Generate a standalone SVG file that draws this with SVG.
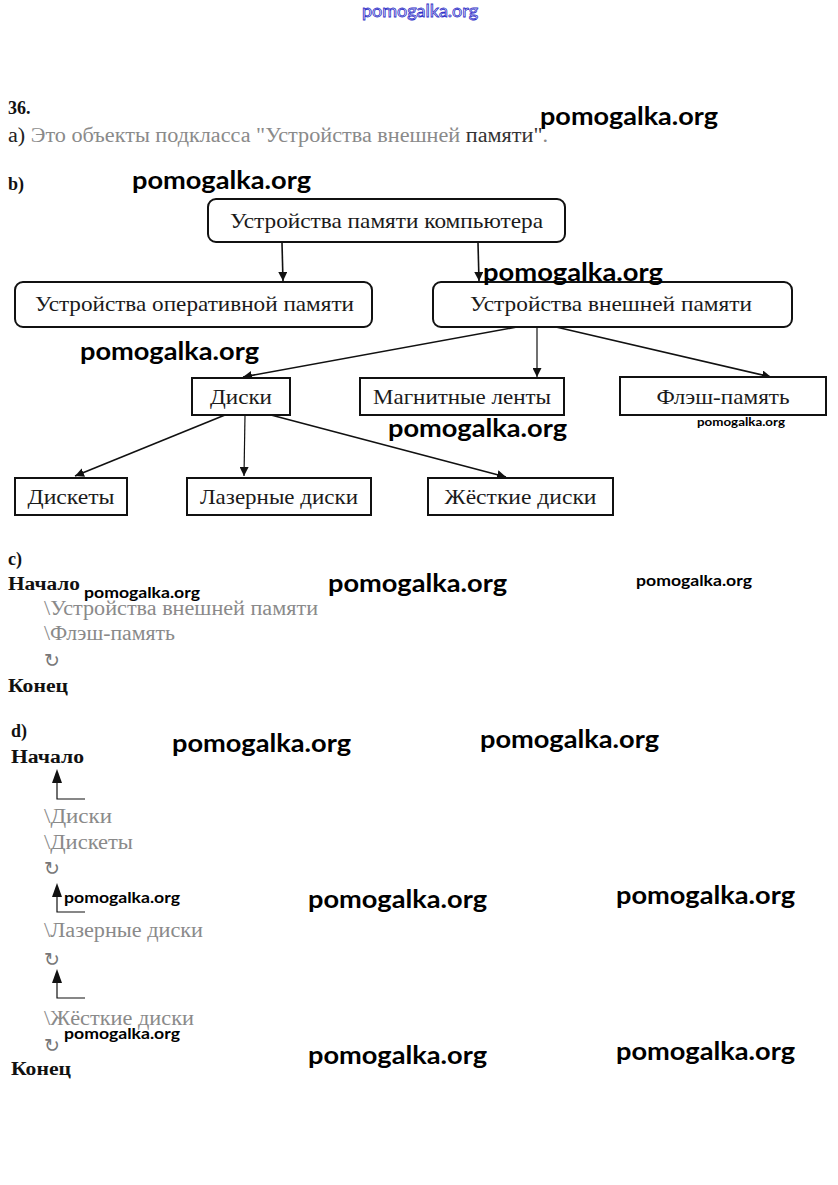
<svg xmlns="http://www.w3.org/2000/svg" width="838" height="1185" viewBox="0 0 838 1185">
<style>
.bg{fill:#fff}
.box{fill:#fff;stroke:#111;stroke-width:2}
.bt{font-family:"Liberation Serif","Times New Roman",serif;font-size:22px;fill:#1a1a1a;text-anchor:middle}
.gt{font-family:"Liberation Serif","Times New Roman",serif;font-size:20px;fill:#8a8a8a}
.hd{font-family:"Liberation Serif","Times New Roman",serif;font-size:18px;font-weight:bold;fill:#111}
.wm{font-family:Lato,"Open Sans",sans-serif;font-weight:bold;fill:#000}
.sym{font-family:"DejaVu Sans",sans-serif;font-size:19px;fill:#777}
.conn{stroke:#111;stroke-width:1.6;fill:none}
.thin{stroke:#111;stroke-width:1.2;fill:none}
</style>
<defs>
<marker id="ah" viewBox="0 0 10 10" refX="10" refY="5" markerWidth="9" markerHeight="9" markerUnits="userSpaceOnUse" orient="auto">
<path d="M0,0 L10,5 L0,10 z" fill="#111"/>
</marker>
</defs>
<rect class="bg" x="0" y="0" width="838" height="1185"/>

<text x="420" y="17" text-anchor="middle" font-family="Lato,sans-serif" font-size="17" fill="#fff" stroke="#3030c8" stroke-width="0.8" textLength="116" lengthAdjust="spacingAndGlyphs">pomogalka.org</text>

<g id="section-a">
<text class="hd" x="8" y="114">36.</text>
<text class="gt" x="8" y="142" textLength="540" lengthAdjust="spacingAndGlyphs"><tspan fill="#222">а)</tspan> Это объекты подкласса "Устройства внешней <tspan fill="#333">памяти"</tspan>.</text>
</g>

<text class="hd" x="8" y="190">b)</text>

<g id="connectors">
<line class="conn" x1="282" y1="243" x2="283" y2="281" marker-end="url(#ah)"/>
<line class="conn" x1="478" y1="243" x2="479" y2="281" marker-end="url(#ah)"/>
<line class="conn" x1="517" y1="327" x2="243" y2="377" marker-end="url(#ah)"/>
<line class="thin" x1="537" y1="327" x2="537" y2="377" marker-end="url(#ah)"/>
<line class="conn" x1="556" y1="327" x2="771" y2="377" marker-end="url(#ah)"/>
<line class="conn" x1="225" y1="415" x2="75" y2="476" marker-end="url(#ah)"/>
<line class="thin" x1="245" y1="415" x2="244" y2="476" marker-end="url(#ah)"/>
<line class="conn" x1="271" y1="415" x2="506" y2="477" marker-end="url(#ah)"/>
</g>

<g id="node-root">
<rect class="box" x="208" y="199" width="357" height="43" rx="8"/>
<text class="bt" x="386.5" y="228" textLength="313" lengthAdjust="spacingAndGlyphs">Устройства памяти компьютера</text>
</g>
<g id="node-ram">
<rect class="box" x="15" y="282" width="357" height="45" rx="8"/>
<text class="bt" x="194.5" y="311" textLength="319" lengthAdjust="spacingAndGlyphs">Устройства оперативной памяти</text>
</g>
<g id="node-ext">
<rect class="box" x="433" y="282" width="359" height="45" rx="8"/>
<text class="bt" x="611" y="311" textLength="282" lengthAdjust="spacingAndGlyphs">Устройства внешней памяти</text>
</g>
<g id="node-disks">
<rect class="box" x="192" y="378" width="98" height="37"/>
<text class="bt" x="241" y="404" textLength="62" lengthAdjust="spacingAndGlyphs">Диски</text>
</g>
<g id="node-tapes">
<rect class="box" x="360" y="378" width="204" height="37"/>
<text class="bt" x="462" y="404" textLength="178" lengthAdjust="spacingAndGlyphs">Магнитные ленты</text>
</g>
<g id="node-flash">
<rect class="box" x="620" y="377" width="206" height="38"/>
<text class="bt" x="723" y="404" textLength="133" lengthAdjust="spacingAndGlyphs">Флэш-память</text>
</g>
<g id="node-floppy">
<rect class="box" x="15" y="478" width="112" height="37"/>
<text class="bt" x="71" y="504" textLength="87" lengthAdjust="spacingAndGlyphs">Дискеты</text>
</g>
<g id="node-laser">
<rect class="box" x="187" y="478" width="184" height="37"/>
<text class="bt" x="279" y="504" textLength="158" lengthAdjust="spacingAndGlyphs">Лазерные диски</text>
</g>
<g id="node-hdd">
<rect class="box" x="428" y="478" width="185" height="37"/>
<text class="bt" x="520.5" y="504" textLength="152" lengthAdjust="spacingAndGlyphs">Жёсткие диски</text>
</g>

<g id="section-c">
<text class="hd" x="8" y="565">c)</text>
<text class="hd" x="8" y="590" textLength="72" lengthAdjust="spacingAndGlyphs">Начало</text>
<text class="gt" x="44" y="615" textLength="274" lengthAdjust="spacingAndGlyphs">\Устройства внешней памяти</text>
<text class="gt" x="44" y="640" textLength="131" lengthAdjust="spacingAndGlyphs">\Флэш-память</text>
<text class="sym" x="44" y="667">↻</text>
<text class="hd" x="8" y="692" textLength="60" lengthAdjust="spacingAndGlyphs">Конец</text>
</g>

<g id="section-d">
<text class="hd" x="11" y="737">d)</text>
<text class="hd" x="11" y="763" textLength="73" lengthAdjust="spacingAndGlyphs">Начало</text>
<path class="thin" d="M85,799 H57 V776"/>
<path d="M52,783 L57,769 L62,783 z" fill="#111"/>
<text class="gt" x="44" y="823" textLength="68" lengthAdjust="spacingAndGlyphs">\Диски</text>
<text class="gt" x="44" y="849" textLength="89" lengthAdjust="spacingAndGlyphs">\Дискеты</text>
<text class="sym" x="44" y="875">↻</text>
<path class="thin" d="M85,912 H57 V890"/>
<path d="M52,897 L57,883 L62,897 z" fill="#111"/>
<text class="gt" x="44" y="937" textLength="159" lengthAdjust="spacingAndGlyphs">\Лазерные диски</text>
<text class="sym" x="44" y="966">↻</text>
<path class="thin" d="M85,998 H57 V976"/>
<path d="M52,983 L57,969 L62,983 z" fill="#111"/>
<text class="gt" x="44" y="1025" textLength="150" lengthAdjust="spacingAndGlyphs">\Жёсткие диски</text>
<text class="sym" x="44" y="1052">↻</text>
<text class="hd" x="11" y="1075" textLength="60" lengthAdjust="spacingAndGlyphs">Конец</text>
</g>

<g id="watermarks">
<text class="wm" x="540" y="125" font-size="24" textLength="178" lengthAdjust="spacingAndGlyphs">pomogalka.org</text>
<text class="wm" x="132" y="189" font-size="24" textLength="179" lengthAdjust="spacingAndGlyphs">pomogalka.org</text>
<text class="wm" x="483" y="281" font-size="24" textLength="180" lengthAdjust="spacingAndGlyphs">pomogalka.org</text>
<text class="wm" x="80" y="360" font-size="24" textLength="179" lengthAdjust="spacingAndGlyphs">pomogalka.org</text>
<text class="wm" x="388" y="437" font-size="24" textLength="179" lengthAdjust="spacingAndGlyphs">pomogalka.org</text>
<text class="wm" x="697" y="426" font-size="12" textLength="88" lengthAdjust="spacingAndGlyphs">pomogalka.org</text>
<text class="wm" x="84" y="598" font-size="16" textLength="116" lengthAdjust="spacingAndGlyphs">pomogalka.org</text>
<text class="wm" x="328" y="592" font-size="24" textLength="179" lengthAdjust="spacingAndGlyphs">pomogalka.org</text>
<text class="wm" x="636" y="586" font-size="16" textLength="116" lengthAdjust="spacingAndGlyphs">pomogalka.org</text>
<text class="wm" x="172" y="752" font-size="24" textLength="179" lengthAdjust="spacingAndGlyphs">pomogalka.org</text>
<text class="wm" x="480" y="748" font-size="24" textLength="179" lengthAdjust="spacingAndGlyphs">pomogalka.org</text>
<text class="wm" x="64" y="903" font-size="16" textLength="116" lengthAdjust="spacingAndGlyphs">pomogalka.org</text>
<text class="wm" x="308" y="908" font-size="24" textLength="179" lengthAdjust="spacingAndGlyphs">pomogalka.org</text>
<text class="wm" x="616" y="904" font-size="24" textLength="179" lengthAdjust="spacingAndGlyphs">pomogalka.org</text>
<text class="wm" x="64" y="1039" font-size="16" textLength="116" lengthAdjust="spacingAndGlyphs">pomogalka.org</text>
<text class="wm" x="308" y="1064" font-size="24" textLength="179" lengthAdjust="spacingAndGlyphs">pomogalka.org</text>
<text class="wm" x="616" y="1060" font-size="24" textLength="179" lengthAdjust="spacingAndGlyphs">pomogalka.org</text>
</g>
</svg>
